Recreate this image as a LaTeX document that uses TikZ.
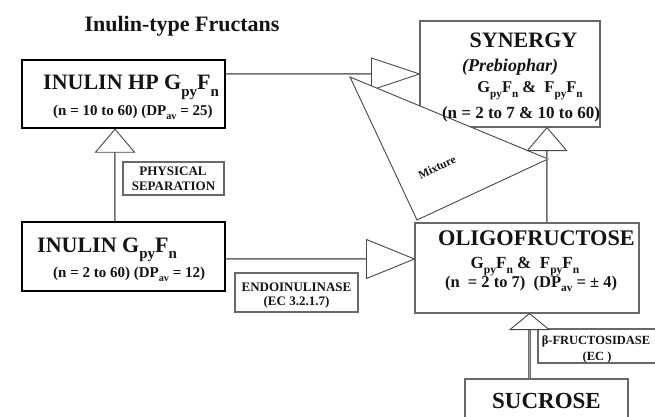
\documentclass[tikz,border=0pt]{standalone}
\usepackage{fontspec}
\setmainfont{Liberation Serif}
\definecolor{boxgray}{RGB}{105,105,105}
\definecolor{conngray}{RGB}{110,110,110}
\definecolor{connfill}{RGB}{160,160,160}
\definecolor{trigray}{RGB}{70,70,70}
\definecolor{txt}{RGB}{20,20,20}
\newcommand\sbs[1]{\raisebox{-0.3em}{\scalebox{0.68}{#1}}}
\begin{document}
\begin{tikzpicture}[x=1pt,y=-1pt,
  thickbox/.style={draw=black,line width=2.4pt,inner sep=0pt},
  thinbox/.style={draw=boxgray,line width=1.1pt,inner sep=0pt},
  conn/.style={draw=conngray,line width=0.9pt,double=connfill,double distance=0.9pt},
  tri/.style={draw=trigray,line width=0.9pt,fill=white,line join=miter},
  lbl/.style={font=\bfseries\fontsize{#1}{#1}\selectfont,inner sep=0pt,anchor=base,text=txt},
]
\clip (0,0) rectangle (655,417);
\fill[white] (0,0) rectangle (655,417);

% boxes
\node[thickbox,minimum width=203pt,minimum height=68pt] (inhp) at (123.5,94) {};
\node[thinbox,minimum width=180pt,minimum height=106pt] (syn) at (510,74) {};
\node[thinbox,minimum width=101pt,minimum height=33pt] (phys) at (173.5,178.5) {};
\node[thickbox,minimum width=203pt,minimum height=69pt] (inu) at (123.5,256.5) {};
\node[thinbox,minimum width=123pt,minimum height=39pt] (endo) at (296.5,292.5) {};
\node[thinbox,minimum width=224pt,minimum height=90pt] (oligo) at (527,268) {};
\node[thinbox,minimum width=122pt,minimum height=34pt] (beta) at (599,346) {};
\node[thinbox,minimum width=163pt,minimum height=46pt] (suc) at (546.5,402) {};

% inulin HP -> synergy
\draw[conn] (inhp.east |- syn.west) -- ([xshift=-48pt]syn.west);
\draw[tri] (syn.west) -- ++(-48,-16) -- ++(0,32) -- cycle;

% inulin -> oligofructose
\coordinate (a2) at (oligo.west |- 0,259);
\draw[conn] (inu.east |- a2) -- ([xshift=-48pt]a2);
\draw[tri] (a2) -- ++(-48,-19.5) -- ++(0,39) -- cycle;

% inulin -> inulin HP
\coordinate (a3) at (inhp.south -| 115,0);
\draw[conn] (inu.north -| a3) -- ([yshift=-23pt]a3);
\draw[tri] (a3) -- ++(-19.5,23) -- ++(39,0) -- cycle;

% mixture triangle
\draw[tri] (350,77) -- (548,159) -- (417,220) -- cycle;

% oligofructose -> synergy
\coordinate (a4) at (syn.south -| 547,0);
\draw[conn] (oligo.north -| a4) -- ([yshift=-23pt]a4);
\draw[tri] (a4) -- ++(-19.5,23) -- ++(39,0) -- cycle;

% sucrose -> oligofructose
\coordinate (a5) at (oligo.south -| 529.5,0);
\draw[conn] (suc.north -| a5) -- ([yshift=-16pt]a5);
\draw[tri] (a5) -- ++(-19.5,16) -- ++(39,0) -- cycle;

% texts
\node[lbl=22] (title) at (182,32) {Inulin-type Fructans};
\node[lbl=22,anchor=base west] (tinhp) at (43,90) {INULIN HP G\sbs{py}F\sbs{n}};
\node[lbl=15,anchor=base west] (tinhp2) at (53,115) {(n = 10 to 60) (DP\sbs{av} = 25)};
\node[lbl=13] (tphys1) at (173,175) {PHYSICAL};
\node[lbl=13] (tphys2) at (173.5,190) {SEPARATION};
\node[lbl=22,anchor=base west] (tinu) at (37,252) {INULIN G\sbs{py}F\sbs{n}};
\node[lbl=15,anchor=base west] (tinu2) at (53,277) {(n = 2 to 60) (DP\sbs{av} = 12)};
\node[lbl=13] (tendo1) at (296.5,291) {ENDOINULINASE};
\node[lbl=13] (tendo2) at (296.5,305) {(EC 3.2.1.7)};
\node[lbl=22.3] (tolig1) at (536.5,245) {OLIGOFRUCTOSE};
\node[lbl=17] (tolig2) at (525,268) {G\sbs{py}F\sbs{n} \&\ \ F\sbs{py}F\sbs{n}};
\node[lbl=16.5] (tolig3) at (531,287) {(n\ \ = 2 to 7)\ \ (DP\sbs{av} = ± 4)};
\node[lbl=22] (tsyn1) at (523.5,48) {SYNERGY};
\node[lbl=18,font=\bfseries\itshape\fontsize{18}{18}\selectfont] (tsyn2) at (510,72) {(Prebiophar)};
\node[lbl=16.5] (tsyn3) at (530,93) {G\sbs{py}F\sbs{n} \&\ \ F\sbs{py}F\sbs{n}};
\node[lbl=17] (tsyn4) at (521,118) {(n = 2 to 7 \& 10 to 60)};
\node[lbl=12.5] (tbeta1) at (596,344) {β-FRUCTOSIDASE};
\node[lbl=12.5] (tbeta2) at (597,360) {(EC )};
\node[lbl=23] (tsuc) at (546.5,408) {SUCROSE};
\node[lbl=11.5,anchor=center,rotate=25] (tmix) at (437,167) {Mixture};
\end{tikzpicture}
\end{document}
